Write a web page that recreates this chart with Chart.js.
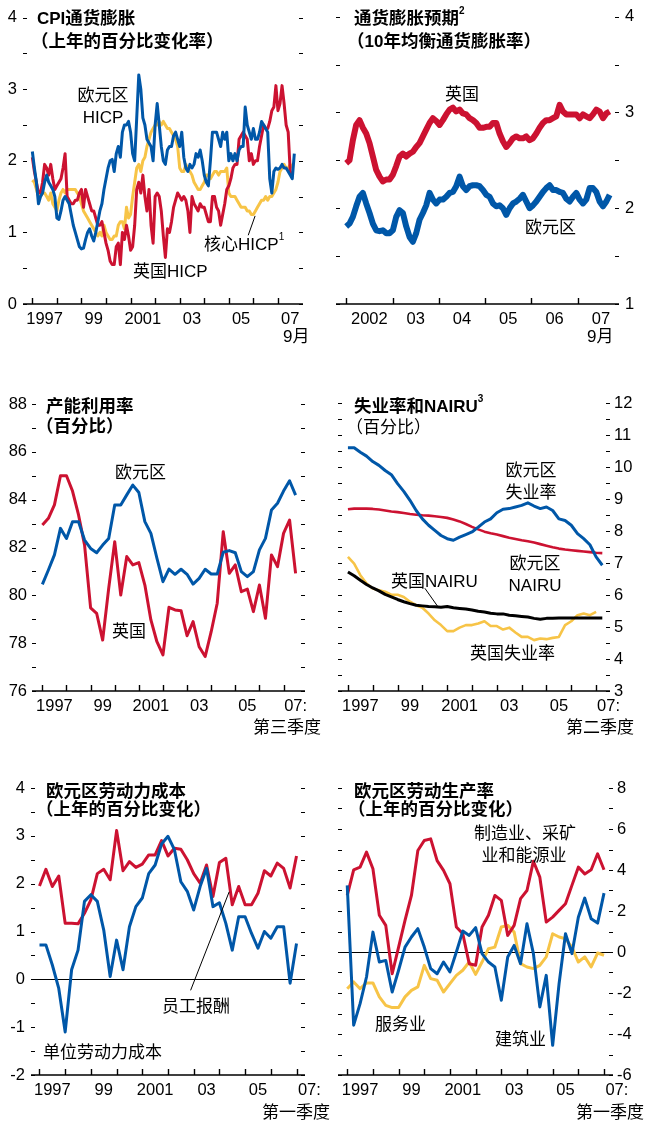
<!DOCTYPE html>
<html>
<head>
<meta charset="utf-8">
<script src="https://cdn.jsdelivr.net/npm/chart.js@4.4.1/dist/chart.umd.min.js"></script>
<style>
body { margin: 0; background: #fff; }
#page { position: relative; width: 646px; height: 1121px; overflow: hidden; color: #000;
  font-family: 'Liberation Sans', 'Noto Sans CJK SC', sans-serif; }
canvas { position: absolute; }
.t { position: absolute; white-space: nowrap; line-height: 1; font-size: 17px; font-family: 'Noto Sans CJK SC', sans-serif; }
.t .l { font-family: 'Liberation Sans', sans-serif; font-size: 17px; }
.b { font-weight: bold; font-size: 17.5px; }
.c { text-align: center; line-height: 22px; }
sup { font-size: 10px; vertical-align: top; position: relative; top: -2px; font-family: 'Liberation Sans', sans-serif; }
</style>
</head>
<body>
<div id="page">
  <canvas id="c1" width="323" height="350" style="left:0;top:0"></canvas>
  <canvas id="c2" width="323" height="350" style="left:323px;top:0"></canvas>
  <canvas id="c3" width="323" height="350" style="left:0;top:385px"></canvas>
  <canvas id="c4" width="323" height="350" style="left:323px;top:385px"></canvas>
  <canvas id="c5" width="323" height="351" style="left:0;top:770px"></canvas>
  <canvas id="c6" width="323" height="351" style="left:323px;top:770px"></canvas>

  <!-- 面板1 -->
  <div class="t b" style="left:37px;top:8px"><span class="l">CPI</span>通货膨胀</div>
  <div class="t b" style="left:31px;top:31px">（上年的百分比变化率）</div>
  <div class="t c" style="left:68px;top:83px;width:70px">欧元区<br><span class="l">HICP</span></div>
  <div class="t" style="left:204px;top:234px">核心<span class="l">HICP</span><sup>1</sup></div>
  <div class="t" style="left:133px;top:261px">英国<span class="l">HICP</span></div>
  <div class="t" style="left:283px;top:326px"><span class="l">9</span>月</div>

  <!-- 面板2 -->
  <div class="t b" style="left:354px;top:8px">通货膨胀预期<sup>2</sup></div>
  <div class="t b" style="left:347px;top:31px">（<span class="l">10</span>年均衡通货膨胀率）</div>
  <div class="t" style="left:445px;top:84px">英国</div>
  <div class="t" style="left:525px;top:217px">欧元区</div>
  <div class="t" style="left:587px;top:326px"><span class="l">9</span>月</div>

  <!-- 面板3 -->
  <div class="t b" style="left:46px;top:396px">产能利用率</div>
  <div class="t b" style="left:36px;top:416px">（百分比）</div>
  <div class="t" style="left:115px;top:462px">欧元区</div>
  <div class="t" style="left:112px;top:621px">英国</div>
  <div class="t" style="left:253px;top:717px">第三季度</div>

  <!-- 面板4 -->
  <div class="t b" style="left:354px;top:396px">失业率和<span class="l">NAIRU</span><sup>3</sup></div>
  <div class="t" style="left:346px;top:417px">（百分比）</div>
  <div class="t c" style="left:496px;top:458px;width:70px">欧元区<br>失业率</div>
  <div class="t c" style="left:500px;top:551px;width:70px">欧元区<br><span class="l">NAIRU</span></div>
  <div class="t" style="left:391px;top:571px">英国<span class="l">NAIRU</span></div>
  <div class="t" style="left:470px;top:643px">英国失业率</div>
  <div class="t" style="left:566px;top:717px">第二季度</div>

  <!-- 面板5 -->
  <div class="t b" style="left:46px;top:781px">欧元区劳动力成本</div>
  <div class="t b" style="left:36px;top:799px">（上年的百分比变化）</div>
  <div class="t" style="left:162px;top:996px">员工报酬</div>
  <div class="t" style="left:43px;top:1042px">单位劳动力成本</div>
  <div class="t" style="left:262px;top:1102px">第一季度</div>

  <!-- 面板6 -->
  <div class="t b" style="left:354px;top:781px">欧元区劳动生产率</div>
  <div class="t b" style="left:348px;top:799px">（上年的百分比变化）</div>
  <div class="t c" style="left:474px;top:821px;width:100px">制造业、采矿<br>业和能源业</div>
  <div class="t" style="left:375px;top:1014px">服务业</div>
  <div class="t" style="left:495px;top:1029px">建筑业</div>
  <div class="t" style="left:576px;top:1102px">第一季度</div>
</div>

<script>
// CPI通胀，月度，1997年1月起（%）
const euroHicp = [2.13,1.9,1.7,1.4,1.5,1.55,1.7,1.8,1.7,1.65,1.6,1.5,
  1.2,1.18,1.3,1.45,1.5,1.45,1.4,1.25,1.1,1.0,0.9,0.8,
  0.77,0.78,0.9,1.0,1.05,0.95,0.88,1.0,1.15,1.3,1.4,1.6,
  1.75,1.9,2.0,2.02,1.85,2.1,2.2,2.05,2.4,2.5,2.5,2.55,
  2.4,2.1,2.0,2.6,3.2,3.0,2.6,2.5,2.3,2.25,2.2,2.0,
  2.5,2.8,2.5,2.2,2.0,1.95,2.15,2.2,2.2,2.35,2.4,2.3,
  2.2,2.4,2.05,1.9,1.85,1.95,1.9,1.95,2.1,2.05,2.15,2.0,
  1.8,1.7,1.65,2.0,2.4,2.4,2.4,2.3,2.2,2.4,2.3,2.4,
  2.0,2.1,2.0,2.1,2.0,2.15,2.2,2.2,2.75,2.5,2.4,2.3,
  2.45,2.3,2.3,2.4,2.55,2.5,2.45,2.4,1.75,1.55,1.85,1.9,
  1.88,1.9,1.95,1.9,1.9,1.85,1.8,1.75,2.1];
const ukHicp = [2.05,1.85,1.7,1.55,1.55,1.7,1.95,1.9,1.8,1.95,1.75,1.6,
  1.65,1.7,1.75,1.9,2.1,1.5,1.45,1.4,1.4,1.45,1.45,1.55,
  1.6,1.35,1.6,1.5,1.4,1.3,1.3,1.2,1.1,1.1,1.15,1.0,
  0.85,0.75,0.6,0.55,0.55,0.8,0.85,0.55,1.0,0.9,1.1,0.95,
  0.75,0.8,1.1,1.6,1.7,1.55,1.8,1.5,1.3,1.6,1.1,0.85,
  1.5,1.55,1.5,1.3,0.95,0.65,1.05,1.0,1.15,1.35,1.45,1.55,
  1.5,1.45,1.5,1.45,1.3,1.0,1.5,1.4,1.35,1.3,1.4,1.35,
  1.35,1.25,1.15,1.15,1.5,1.5,1.35,1.3,1.1,1.25,1.4,1.6,
  1.65,1.75,1.9,1.95,1.95,2.3,2.35,2.4,2.35,2.3,2.0,2.1,
  1.95,2.0,2.0,2.2,2.35,2.5,2.45,2.45,2.55,2.7,2.75,3.05,
  2.7,2.8,3.05,2.8,2.5,2.4,1.85,1.8];
const coreHicp = [1.73,1.7,1.6,1.5,1.5,1.55,1.55,1.5,1.45,1.55,1.4,1.35,
  1.3,1.45,1.55,1.6,1.55,1.6,1.6,1.6,1.6,1.6,1.55,1.5,
  1.4,1.3,1.25,1.2,1.15,1.1,1.05,1.0,0.95,1.0,0.95,1.1,
  1.0,0.95,0.9,0.9,0.95,0.95,1.1,1.15,1.15,1.05,1.35,1.2,
  1.25,1.5,1.7,1.9,1.95,1.85,2.0,2.05,2.2,2.3,2.4,2.45,
  2.5,2.5,2.55,2.5,2.55,2.5,2.45,2.45,2.4,2.35,2.3,2.2,
  1.9,1.85,1.85,1.95,1.9,1.85,1.8,1.7,1.65,1.6,1.6,1.65,
  1.7,1.8,1.8,1.75,1.8,1.85,1.85,1.8,1.85,1.85,1.85,1.9,
  1.55,1.5,1.5,1.5,1.45,1.4,1.35,1.35,1.35,1.3,1.3,1.25,
  1.25,1.3,1.35,1.4,1.45,1.45,1.5,1.45,1.5,1.5,1.55,1.6,
  1.7,1.85,1.9,1.95,1.9,1.9,1.95,1.9];

// 10年均衡通胀率，2002年初起，约每26天一个读数
const beStart = 2002.0;
const beStep = 0.072;
const ukBreakeven = [2.47,2.5,2.71,2.87,2.92,2.84,2.78,2.68,2.54,2.40,
  2.33,2.28,2.30,2.30,2.35,2.44,2.54,2.57,2.54,2.57,
  2.59,2.64,2.68,2.75,2.82,2.89,2.94,2.91,2.87,2.92,
  2.98,3.03,3.05,3.01,3.03,2.99,2.98,2.94,2.92,2.89,
  2.84,2.84,2.85,2.85,2.89,2.89,2.78,2.70,2.64,2.68,
  2.73,2.75,2.73,2.73,2.75,2.71,2.73,2.78,2.84,2.89,
  2.92,2.92,2.94,2.96,3.08,3.01,2.98,2.98,2.98,2.98,
  2.94,2.98,2.96,2.94,2.98,3.03,3.01,2.94,2.99,3.01];
const euroBreakeven = [1.81,1.84,1.91,2.02,2.12,2.16,2.05,1.95,1.84,1.77,
  1.76,1.77,1.74,1.74,1.77,1.91,1.98,1.95,1.81,1.70,
  1.65,1.74,1.88,1.95,2.03,2.16,2.09,2.05,2.09,2.09,
  2.12,2.16,2.17,2.23,2.33,2.23,2.19,2.23,2.24,2.24,
  2.23,2.19,2.14,2.12,2.05,2.02,2.03,2.00,1.93,2.00,
  2.05,2.07,2.10,2.14,2.07,2.00,2.03,2.07,2.12,2.17,
  2.21,2.24,2.19,2.19,2.17,2.16,2.10,2.07,2.12,2.16,
  2.09,2.05,2.09,2.21,2.21,2.17,2.07,2.02,2.07,2.14];

// 产能利用率，季度，1997年第一季度起
const euroCapUtil = [80.46,81.06,81.69,82.8,82.38,83.08,83.08,82.31,81.96,81.78,82.1,82.38,
  83.78,83.78,84.2,84.61,84.3,83.08,82.59,81.55,80.57,81.1,80.88,81.09,80.88,80.47,
  80.71,81.09,80.89,80.89,81.8,81.87,81.78,80.99,80.78,80.99,81.9,82.38,83.57,83.85,
  84.36,84.79,84.19];
const ukCapUtil = [82.94,83.22,83.78,85.0,85.0,84.36,83.36,82.1,79.48,79.25,78.13,80.29,
  82.24,80.01,81.62,81.27,81.37,80.43,78.97,78.06,77.51,79.5,79.39,79.36,78.31,78.9,
  77.85,77.44,78.48,79.67,82.66,80.92,81.27,80.15,80.26,79.32,80.43,79.04,81.69,81.2,
  82.59,83.15,80.92];

// 失业率和NAIRU，季度
const euroUnemp = [10.6,10.6,10.46,10.34,10.17,10.05,9.89,9.76,9.48,9.24,
  8.96,8.64,8.38,8.18,8.02,7.86,7.76,7.71,7.81,7.89,
  7.97,8.12,8.28,8.38,8.57,8.68,8.7,8.75,8.8,8.88,
  8.78,8.7,8.75,8.64,8.38,8.33,8.18,7.92,7.76,7.57,7.19,6.93];
const euroNairu = [8.68,8.7,8.7,8.7,8.69,8.67,8.64,8.61,8.59,8.56,
  8.53,8.51,8.49,8.48,8.46,8.44,8.41,8.36,8.3,8.22,
  8.13,8.05,7.98,7.93,7.89,7.84,7.79,7.75,7.71,7.68,
  7.64,7.59,7.54,7.49,7.45,7.42,7.4,7.38,7.36,7.34,7.32,7.31];
const ukUnemp = [7.19,6.98,6.62,6.36,6.2,6.15,6.1,6.01,6.01,5.94,
  5.79,5.68,5.6,5.42,5.21,5.06,4.87,4.87,4.98,5.06,
  5.06,5.11,5.18,5.03,5.03,4.92,4.98,4.83,4.69,4.69,
  4.59,4.64,4.62,4.66,4.69,5.06,5.18,5.37,5.42,5.37,5.47];
const ukNairu = [6.72,6.6,6.46,6.33,6.22,6.13,6.02,5.94,5.86,5.79,
  5.73,5.68,5.66,5.64,5.63,5.62,5.64,5.6,5.58,5.56,
  5.53,5.49,5.47,5.43,5.41,5.41,5.37,5.35,5.33,5.31,
  5.27,5.24,5.27,5.27,5.28,5.28,5.28,5.28,5.28,5.28,5.28,5.28];

// 劳动力成本，季度
const compPerEmployee = [1.95,2.3,1.94,2.16,1.17,1.17,1.16,1.38,1.66,2.21,
  2.3,2.08,3.11,2.27,2.46,2.34,2.41,2.6,2.6,2.9,
  2.58,2.74,2.72,2.5,2.21,2.01,2.39,1.73,2.44,2.53,
  1.56,1.94,1.56,1.56,1.8,2.27,2.16,2.43,2.32,1.91,2.58];
const unitLabourCost = [0.72,0.72,0.3,-0.19,-1.1,0.2,0.61,1.63,1.77,1.63,
  1.03,0.06,0.82,0.2,1.1,1.52,1.7,2.21,2.39,2.83,
  2.99,2.71,2.04,1.84,1.45,1.94,2.32,1.52,1.6,1.17,
  0.61,1.31,1.31,0.96,0.65,1.0,0.86,1.1,1.1,-0.08,0.75];

// 劳动生产率，季度
const prodIndustry = [2.76,4.01,4.14,4.87,4.06,1.79,1.3,-1.06,0.24,1.54,
  2.76,4.95,5.44,5.52,4.46,3.98,3.33,1.22,0.89,-0.57,
  -0.65,1.22,1.79,2.76,2.52,0.81,1.3,2.6,3.0,4.43,
  3.65,1.46,1.7,2.03,2.35,3.25,4.14,3.81,4.01,4.79,4.01];
const prodConstruction = [3.25,-3.57,-2.52,-1.22,0.97,-0.49,-0.41,-1.95,-0.89,0.24,
  0.73,1.14,0.24,-0.81,-1.06,-0.49,-0.97,0,1.02,0.81,
  1.19,-0.08,-0.49,-0.73,-2.35,-0.24,0.32,-0.57,1.38,-0.08,
  -2.68,-1.14,-4.55,-1.54,0.89,-0.08,1.7,2.63,1.62,1.41,2.87];
const prodServices = [-1.79,-1.46,-1.79,-1.51,-1.51,-2.19,-2.6,-2.71,-2.71,-2.19,
  -1.87,-1.7,-0.65,-1.3,-1.38,-1.95,-1.54,-1.14,-0.89,-0.49,
  -1.09,-0.49,0.16,0.24,1.22,1.3,0.97,-0.57,-0.73,-0.81,
  -0.65,-0.24,0.89,0.73,0.65,0.24,-0.49,-0.24,-0.73,-0.05,-0.16];

// 横轴标签
const yearsOdd = [1997, 1999, 2001, 2003, 2005, 2007];
const labelsMonthly = ['1997', '99', '2001', '03', '05', '07'];
const labelsQuarterly = ['1997', '99', '2001', '03', '05', '07:'];
const yearsBe = [2002, 2003, 2004, 2005, 2006, 2007];
const labelsBe = ['2002', '03', '04', '05', '06', '07'];

const BLUE = '#0057a8', RED = '#cc1231', YELLOW = '#f7c447', BLACK = '#000';
const numFont = { family: "'Liberation Sans', sans-serif", size: 16.5 };

// 轴线、年份刻度、两侧短刻度、零线和引线
const frame = {
  id: 'frame',
  beforeDatasetsDraw(chart, args, opts) {
    if (!opts.zero) return;
    const { ctx, chartArea: a } = chart;
    const py = Math.round(chart.scales.y.getPixelForValue(0)) + 0.5;
    ctx.save();
    ctx.strokeStyle = '#000';
    ctx.lineWidth = 1;
    ctx.beginPath();
    ctx.moveTo(a.left, py);
    ctx.lineTo(a.right, py);
    ctx.stroke();
    ctx.restore();
  },
  afterDatasetsDraw(chart, args, opts) {
    const { ctx, chartArea: a, scales: { x, y } } = chart;
    ctx.save();
    ctx.strokeStyle = '#000';
    ctx.lineWidth = 1.4;
    ctx.beginPath();
    ctx.moveTo(a.left, a.bottom);
    ctx.lineTo(a.right, a.bottom);
    for (let yr = Math.ceil(x.min); yr < x.max - 0.05; yr++) {
      const px = Math.round(x.getPixelForValue(yr)) + 0.5;
      ctx.moveTo(px, a.bottom);
      ctx.lineTo(px, a.bottom - 6);
    }
    ctx.stroke();
    ctx.lineWidth = 1.2;
    ctx.beginPath();
    y.ticks.forEach(t => {
      const py = Math.round(y.getPixelForValue(t.value)) + 0.5;
      ctx.moveTo(a.left, py);
      ctx.lineTo(a.left + 4, py);
      ctx.moveTo(a.right - 4, py);
      ctx.lineTo(a.right, py);
    });
    ctx.stroke();
    ctx.lineWidth = 1;
    (opts.leaders || []).forEach(l => {
      ctx.beginPath();
      ctx.moveTo(x.getPixelForValue(l[0]), y.getPixelForValue(l[1]));
      ctx.lineTo(x.getPixelForValue(l[2]), y.getPixelForValue(l[3]));
      ctx.stroke();
    });
    ctx.restore();
  }
};

function series(values, start, step, color, width) {
  return {
    data: values.map((v, i) => ({ x: start + i * step, y: v })),
    borderColor: color,
    borderWidth: width,
    pointRadius: 0,
    borderJoinStyle: 'round',
    tension: 0,
    fill: false
  };
}

function panel(id, p) {
  new Chart(document.getElementById(id), {
    type: 'line',
    data: { datasets: p.datasets },
    plugins: [frame],
    options: {
      responsive: false,
      animation: false,
      events: [],
      layout: { padding: { top: p.top, left: p.padLeft || 0, right: p.padRight || 0, bottom: 0 } },
      plugins: {
        legend: { display: false },
        tooltip: { enabled: false },
        frame: { zero: p.zero, leaders: p.leaders }
      },
      scales: {
        x: {
          type: 'linear',
          min: p.xMin,
          max: p.xMax,
          grid: { display: false, drawTicks: false },
          border: { display: false },
          afterBuildTicks: s => { s.ticks = p.years.map(v => ({ value: v + 0.5 })); },
          ticks: {
            autoSkip: false, maxRotation: 0, padding: 6, color: '#000', font: numFont,
            callback: (v, i) => p.labels[i]
          },
          afterFit: s => { s.height = p.xHeight; s.paddingLeft = 0; s.paddingRight = 0; }
        },
        y: {
          position: p.side,
          min: p.yMin,
          max: p.yMax,
          grid: { display: false, drawTicks: false },
          border: { display: false },
          ticks: {
            stepSize: p.yStep, autoSkip: false, padding: p.yPad, color: '#000', font: numFont,
            callback: v => (Math.abs(v % p.labelEvery) < 1e-9 ? String(v) : '')
          },
          afterFit: s => { s.width = p.yWidth; s.paddingTop = 0; s.paddingBottom = 0; }
        }
      }
    }
  });
}

const m = 1 / 12, q = 0.25;

panel('c1', {
  datasets: [
    series(euroHicp, 1997, m, BLUE, 3),
    series(ukHicp, 1997, m, RED, 3),
    series(coreHicp, 1997, m, YELLOW, 3)
  ],
  xMin: 1996.62, xMax: 2008.02, years: yearsOdd, labels: labelsMonthly,
  yMin: 0, yMax: 4, yStep: 0.5, labelEvery: 1, side: 'left', yWidth: 23, yPad: 6,
  top: 17.6, padRight: 20, xHeight: 46,
  leaders: [[2005.79, 0.96, 2006.07, 1.23]]
});

panel('c2', {
  datasets: [
    series(ukBreakeven, beStart, beStep, RED, 6),
    series(euroBreakeven, beStart, beStep, BLUE, 6)
  ],
  xMin: 2001.78, xMax: 2007.89, years: yearsBe, labels: labelsBe,
  yMin: 1, yMax: 4, yStep: 0.5, labelEvery: 1, side: 'right', yWidth: 27, yPad: 6,
  top: 16.7, padLeft: 13, xHeight: 46
});

panel('c3', {
  datasets: [
    series(euroCapUtil, 1997, q, BLUE, 3),
    series(ukCapUtil, 1997, q, RED, 3)
  ],
  xMin: 1996.57, xMax: 2007.89, years: yearsOdd, labels: labelsQuarterly,
  yMin: 76, yMax: 88, yStep: 1, labelEvery: 2, side: 'left', yWidth: 32, yPad: 5,
  top: 19, padRight: 18, xHeight: 44
});

panel('c4', {
  datasets: [
    series(euroUnemp, 1997, q, BLUE, 3),
    series(euroNairu, 1997, q, RED, 2.6),
    series(ukNairu, 1997, q, BLACK, 3),
    series(ukUnemp, 1997, q, YELLOW, 2.6)
  ],
  xMin: 1996.6, xMax: 2007.56, years: yearsOdd, labels: labelsQuarterly,
  yMin: 3, yMax: 12, yStep: 0.5, labelEvery: 1, side: 'right', yWidth: 36, yPad: 4,
  top: 18, padLeft: 15, xHeight: 44,
  leaders: [[2000.1, 6.21, 2000.63, 5.63]]
});

panel('c5', {
  datasets: [
    series(unitLabourCost, 1997, q, BLUE, 3),
    series(compPerEmployee, 1997, q, RED, 3)
  ],
  xMin: 1996.67, xMax: 2007.33, years: yearsOdd, labels: labelsQuarterly,
  yMin: -2, yMax: 4, yStep: 0.5, labelEvery: 1, side: 'left', yWidth: 31, yPad: 6,
  top: 18, padRight: 18, xHeight: 46, zero: true,
  leaders: [[2002.88, -0.23, 2004.38, 1.83]]
});

panel('c6', {
  datasets: [
    series(prodConstruction, 1997, q, BLUE, 3),
    series(prodIndustry, 1997, q, RED, 3),
    series(prodServices, 1997, q, YELLOW, 3)
  ],
  xMin: 1996.64, xMax: 2007.35, years: yearsOdd, labels: labelsQuarterly,
  yMin: -6, yMax: 8, yStep: 1, labelEvery: 2, side: 'right', yWidth: 33, yPad: 4,
  top: 18, padLeft: 15, xHeight: 46, zero: true
});
</script>
</body>
</html>
